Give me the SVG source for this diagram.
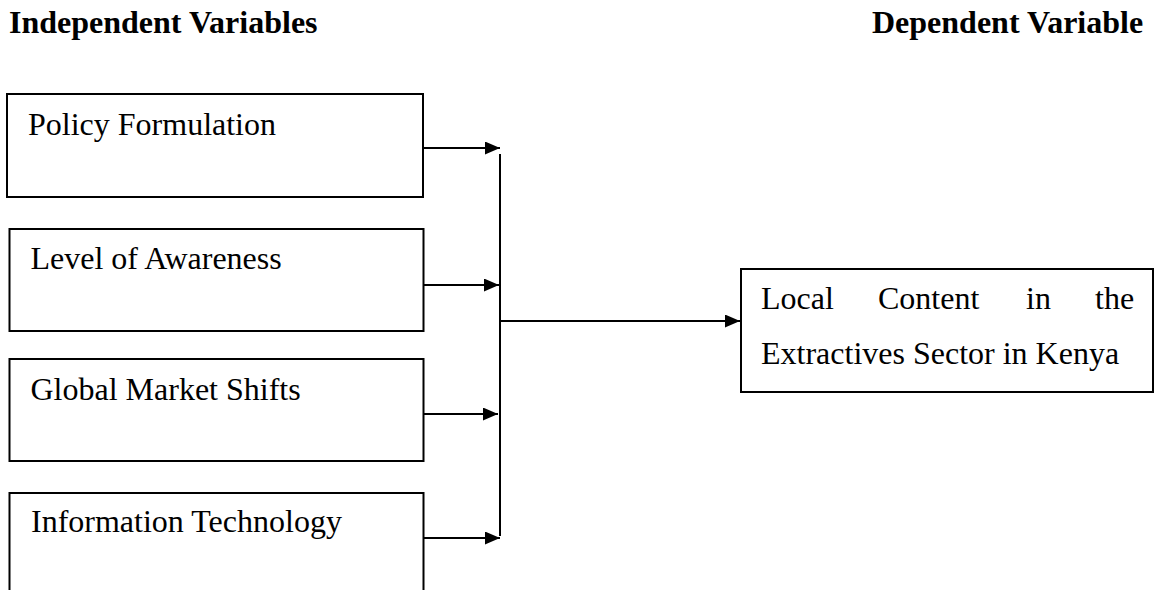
<svg xmlns="http://www.w3.org/2000/svg" width="1155" height="590" viewBox="0 0 1155 590">
<style>
.box{fill:#fff;stroke:#000;stroke-width:2}
.t{font-family:"Liberation Serif","Times New Roman",serif;font-size:32px;fill:#000}
.h{font-family:"Liberation Serif","Times New Roman",serif;font-size:32px;font-weight:bold;fill:#000}
.c{stroke:#000;stroke-width:2;fill:none}
</style>
<defs>
<marker id="ah" viewBox="0 0 15 13" refX="15" refY="6.5" markerWidth="15" markerHeight="13" markerUnits="userSpaceOnUse" orient="auto">
<path d="M0,0 L15,6.5 L0,13 z" fill="#000"/>
</marker>
</defs>
<rect width="1155" height="590" fill="#fff"/>
<text class="h" x="9" y="33">Independent Variables</text>
<text class="h" x="872" y="33">Dependent Variable</text>
<g id="n1">
<rect class="box" x="7" y="94" width="416" height="103"/>
<text class="t" x="28" y="135">Policy Formulation</text>
</g>
<g id="n2">
<rect class="box" x="9.5" y="229" width="414" height="102"/>
<text class="t" x="30.5" y="269">Level of Awareness</text>
</g>
<g id="n3">
<rect class="box" x="9.5" y="359" width="414" height="102"/>
<text class="t" x="30.5" y="400">Global Market Shifts</text>
</g>
<g id="n4">
<rect class="box" x="9.5" y="493" width="414" height="110"/>
<text class="t" x="31" y="532">Information Technology</text>
</g>
<g id="n5">
<rect class="box" x="741" y="269" width="412" height="123"/>
<text class="t" y="309"><tspan x="761">Local</tspan><tspan x="878">Content</tspan><tspan x="1026">in</tspan><tspan x="1095">the</tspan></text>
<text class="t" x="761" y="364">Extractives Sector in Kenya</text>
</g>
<g id="connectors">
<line class="c" x1="424" y1="148" x2="500" y2="148" marker-end="url(#ah)"/>
<line class="c" x1="424" y1="285" x2="499" y2="285" marker-end="url(#ah)"/>
<line class="c" x1="424" y1="414" x2="498" y2="414" marker-end="url(#ah)"/>
<line class="c" x1="424" y1="538" x2="500" y2="538" marker-end="url(#ah)"/>
<line class="c" x1="500" y1="154" x2="500" y2="536"/>
<line class="c" x1="500" y1="321" x2="740" y2="321" marker-end="url(#ah)"/>
</g>
</svg>
